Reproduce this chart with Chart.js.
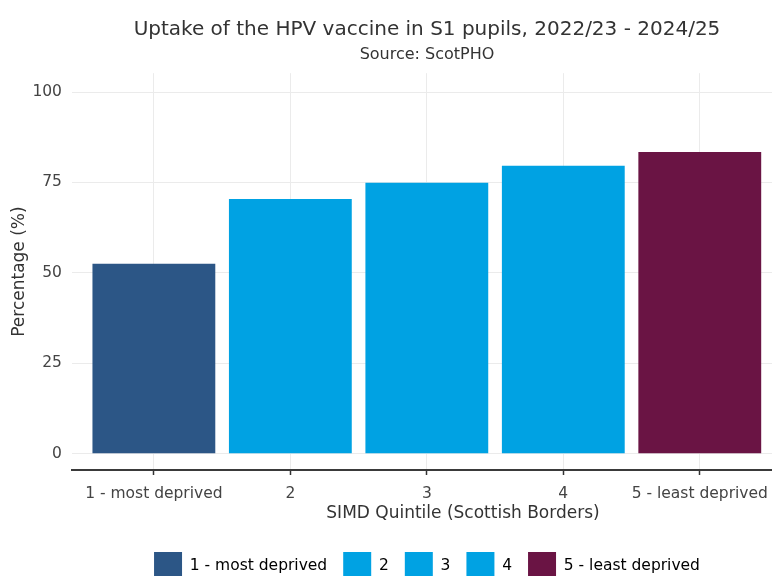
<!DOCTYPE html>
<html>
<head>
<meta charset="utf-8">
<script src="https://cdn.jsdelivr.net/npm/chart.js@4/dist/chart.umd.min.js"></script>
<style>
  html, body { margin: 0; padding: 0; background: #ffffff; overflow: hidden; }
  #chart { display: block; }
</style>
</head>
<body>
<canvas id="chart" width="854" height="590"></canvas>
<script>
// HPV vaccine uptake (%) by SIMD quintile, Scottish Borders
const categories = ['1 - most deprived', '2', '3', '4', '5 - least deprived'];
const uptake = [52.5, 70.4, 74.9, 79.6, 83.4];
const barColours = ['#2c5686', '#00a2e3', '#00a2e3', '#00a2e3', '#6a1444'];
const yTicks = [0, 25, 50, 75, 100];

const FONT = 'DejaVu Sans';
Chart.defaults.font.family = FONT;
Chart.defaults.color = '#444444';

const points = categories.map((c, i) => ({ x: i, y: uptake[i] }));

new Chart(document.getElementById('chart'), {
  type: 'bar',
  data: {
    datasets: [{
      label: 'Uptake',
      data: points,
      backgroundColor: barColours,
      borderWidth: 0,
      barPercentage: 0.9,
      categoryPercentage: 1.0
    }]
  },
  options: {
    responsive: false,
    animation: false,
    devicePixelRatio: 1,
    layout: { padding: 0 },
    scales: {
      x: {
        type: 'linear',
        min: -0.6,
        max: 5.13,
        offset: false,
        afterBuildTicks: axis => { axis.ticks = categories.map((c, i) => ({ value: i })); },
        ticks: {
          autoSkip: false,
          maxRotation: 0,
          padding: 9.7,
          color: '#444444',
          font: { size: 15.5 },
          callback: v => categories[v]
        },
        grid: {
          offset: false,
          color: '#ebebeb',
          lineWidth: 1,
          drawTicks: true,
          tickLength: 5,
          tickColor: '#333333',
          tickWidth: 1.5
        },
        border: { display: true, color: '#3a3a3a', width: 2 },
        title: {
          display: true,
          text: 'SIMD Quintile (Scottish Borders)',
          color: '#333333',
          font: { size: 17 },
          padding: { top: -9.2, bottom: 11.8 }
        }
      },
      y: {
        min: -4.5,
        max: 105.2,
        afterBuildTicks: axis => { axis.ticks = yTicks.map(v => ({ value: v })); },
        ticks: {
          padding: 10,
          color: '#444444',
          font: { size: 15.5 }
        },
        grid: {
          color: '#ebebeb',
          lineWidth: 1,
          drawTicks: false
        },
        border: { display: false },
        title: {
          display: true,
          text: 'Percentage (%)',
          color: '#333333',
          font: { size: 17 },
          padding: { top: 9.5, bottom: -7.5 }
        }
      }
    },
    plugins: {
      title: {
        display: true,
        text: 'Uptake of the HPV vaccine in S1 pupils, 2022/23 - 2024/25',
        color: '#333333',
        font: { size: 20, weight: 'normal' },
        padding: { top: 18, bottom: 3 }
      },
      subtitle: {
        display: true,
        text: 'Source: ScotPHO',
        color: '#333333',
        font: { size: 16, weight: 'normal' },
        padding: { top: 0, bottom: 9 }
      },
      legend: {
        display: true,
        position: 'bottom',
        labels: {
          boxWidth: 28,
          boxHeight: 28,
          padding: 16,
          color: '#444444',
          font: { size: 15.5 },
          generateLabels: () => categories.map((c, i) => ({
            text: c,
            fillStyle: barColours[i],
            strokeStyle: barColours[i],
            lineWidth: 0,
            hidden: false,
            index: i
          }))
        },
        onClick: () => {}
      },
      tooltip: { enabled: false }
    }
  }
});
</script>
</body>
</html>
